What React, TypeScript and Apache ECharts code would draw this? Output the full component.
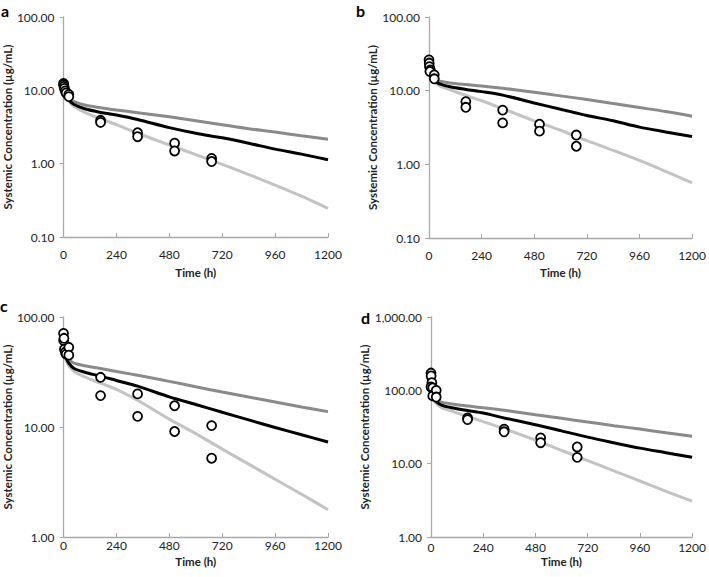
import React, { useEffect, useRef } from "react";
import * as echarts from "echarts";

// Model time grid (h)
const times = [0, 12, 24, 48, 96, 168, 240, 336, 480, 600, 720, 840, 960, 1080, 1200];

// Panel a
const aDark = [10, 8.6, 7.7, 7.0, 6.3, 5.8, 5.4, 4.95, 4.35, 3.85, 3.4, 3.0, 2.7, 2.4, 2.15];
const aBlack = [10, 8.4, 7.4, 6.4, 5.6, 5.0, 4.6, 4.0, 3.1, 2.6, 2.25, 1.9, 1.58, 1.35, 1.13];
const aLight = [10, 8.2, 7.1, 6.0, 5.0, 4.1, 3.4, 2.6, 1.8, 1.33, 0.98, 0.71, 0.51, 0.36, 0.245];
const aObs = [[0, 12.4], [0.5, 12.0], [2, 11.3], [4, 10.6], [8, 9.8], [12, 9.2], [24, 8.8], [24, 8.2], [168, 3.9], [168, 3.65], [336, 2.64], [336, 2.33], [504, 1.9], [504, 1.49], [672, 1.18], [672, 1.07]];

// Panel b
const bDark = [20, 16, 14.3, 13.4, 12.7, 12.1, 11.6, 10.8, 9.5, 8.5, 7.6, 6.7, 5.9, 5.2, 4.5];
const bBlack = [20, 15.5, 13.7, 12.4, 11.3, 10.4, 9.7, 8.7, 6.8, 5.6, 4.6, 3.9, 3.2, 2.75, 2.38];
const bLight = [20, 15, 13.1, 11.6, 10.3, 8.6, 7.3, 5.7, 3.9, 2.9, 2.1, 1.55, 1.13, 0.8, 0.56];
const bObs = [[0, 26.2], [1, 23.7], [2, 21.2], [6, 19.1], [4, 18.2], [24, 16.4], [24, 14.5], [168, 7.1], [168, 5.95], [336, 5.45], [336, 3.65], [504, 3.5], [504, 2.82], [672, 2.5], [672, 1.76]];

// Panel c
const cDark = [48, 44, 41, 38, 36, 34, 32, 29.5, 26, 23.2, 20.8, 18.7, 16.9, 15.2, 13.8];
const cBlack = [48, 42, 38, 34, 31.5, 29, 26.5, 23.5, 18.8, 16, 13.6, 11.6, 9.9, 8.5, 7.3];
const cLight = [48, 40, 36, 32, 28.5, 25, 22, 17.5, 11.8, 8.7, 6.3, 4.6, 3.35, 2.45, 1.77];
const cObs = [[0, 71], [0.5, 61], [2, 64], [4, 51], [8, 48], [12, 46], [24, 53], [24, 45], [168, 28.3], [168, 19.3], [336, 20], [336, 12.5], [504, 15.6], [504, 9.1], [672, 10.3], [672, 5.2]];

// Panel d
const dDark = [90, 80, 74, 69, 65, 61, 58, 53.5, 46.5, 41.5, 37, 33, 29.6, 26.4, 23.6];
const dBlack = [90, 78, 70, 63, 58, 53, 49, 42, 34, 28, 23, 19.3, 16.3, 14.1, 12.2];
const dLight = [90, 75, 66, 58, 52, 44, 37.5, 30, 21, 15.2, 11.0, 8.0, 5.8, 4.2, 3.08];
const dObs = [[0, 172], [0.5, 157], [4, 127], [0, 111], [8, 108], [12, 88], [8, 84], [24, 100], [24, 81], [168, 42], [168, 40], [336, 29.5], [336, 27.2], [504, 22.5], [504, 19.3], [672, 16.9], [672, 12.2]];

const xTicks = [0, 240, 480, 720, 960, 1200];
const panelLetters = ["a", "b", "c", "d"];
const yRanges = [[0.1, 100], [0.1, 100], [1, 100], [1, 1000]];

const FONT = "Lato, 'Open Sans', sans-serif";
const AXIS_COLOR = "#a8a8a8";

const fmt = (v: number) =>
  v.toLocaleString("en-US", { minimumFractionDigits: 2, maximumFractionDigits: 2 });

const grids = [
  { left: 61, top: 17, width: 267, height: 220 },
  { left: 429, top: 17, width: 267, height: 221 },
  { left: 61, top: 317, width: 267, height: 220 },
  { left: 431, top: 317, width: 265, height: 220 },
];
const xLabelMargin = [11, 11, 2, 4];
const xNameGap = [29, 28, 18, 18];
const yNameGap = [48, 48, 48, 56];
const letterPos = [[1, 2], [356, 2], [0, 297], [361, 309]];

const panels = [
  { dark: aDark, black: aBlack, light: aLight, obs: aObs },
  { dark: bDark, black: bBlack, light: bLight, obs: bObs },
  { dark: cDark, black: cBlack, light: cLight, obs: cObs },
  { dark: dDark, black: dBlack, light: dLight, obs: dObs },
];

export default function App() {
  const ref = useRef<HTMLDivElement>(null);
  useEffect(() => {
    if (!ref.current) return;
    const chart = echarts.init(ref.current, undefined, { renderer: "svg" });
    const xAxis = grids.map((_, i) => ({
      type: "value",
      gridIndex: i,
      min: xTicks[0],
      max: xTicks[xTicks.length - 1],
      interval: 240,
      axisLine: { show: true, lineStyle: { color: AXIS_COLOR, width: 1.3 } },
      axisTick: { show: true, inside: true, length: 4, lineStyle: { color: AXIS_COLOR } },
      axisLabel: {
        fontFamily: FONT,
        fontSize: 12,
        color: "#222",
        margin: xLabelMargin[i],
        formatter: (v: number) => String(v),
      },
      splitLine: { show: false },
      name: "Time (h)",
      nameLocation: "middle",
      nameGap: xNameGap[i],
      nameTextStyle: { fontFamily: FONT, fontWeight: "bold", fontSize: 11.5, color: "#222" },
    }));
    const yAxis = grids.map((_, i) => ({
      type: "log",
      logBase: 10,
      gridIndex: i,
      min: yRanges[i][0],
      max: yRanges[i][1],
      axisLine: { show: true, lineStyle: { color: AXIS_COLOR, width: 1.3 } },
      axisTick: { show: true, length: 4, lineStyle: { color: AXIS_COLOR } },
      axisLabel: { fontFamily: FONT, fontSize: 12, color: "#222", margin: 9, formatter: fmt },
      splitLine: { show: false },
      minorTick: { show: false },
      name: "Systemic Concentration (µg/mL)",
      nameLocation: "middle",
      nameGap: yNameGap[i],
      nameTextStyle: { fontFamily: FONT, fontWeight: "bold", fontSize: 11.5, color: "#222" },
    }));
    const series: any[] = [];
    panels.forEach((p, i) => {
      const mk = (vals: number[], color: string, z: number) => ({
        type: "line",
        xAxisIndex: i,
        yAxisIndex: i,
        data: times.map((t, k) => [t, vals[k]]),
        showSymbol: false,
        smooth: 0.3,
        z,
        lineStyle: { color, width: 3 },
        itemStyle: { color },
      });
      series.push(mk(p.dark, "#8a8a8a", 2));
      series.push(mk(p.light, "#c3c3c3", 3));
      series.push(mk(p.black, "#000000", 4));
      series.push({
        type: "scatter",
        xAxisIndex: i,
        yAxisIndex: i,
        data: p.obs,
        symbol: "circle",
        symbolSize: 9,
        clip: false,
        z: 10,
        itemStyle: { color: "#ffffff", borderColor: "#000000", borderWidth: 1.8, opacity: 1 },
      });
    });
    chart.setOption({
      animation: false,
      backgroundColor: "#ffffff",
      grid: grids,
      xAxis,
      yAxis,
      series,
      graphic: panelLetters.map((l, i) => ({
        type: "text",
        left: letterPos[i][0],
        top: letterPos[i][1],
        style: { text: l, font: `bold 16px ${FONT}`, fill: "#000" },
      })),
    });
    return () => chart.dispose();
  }, []);
  return (
    <div
      ref={ref}
      style={{ position: "absolute", left: 0, top: 0, width: 709, height: 577 }}
    />
  );
}
